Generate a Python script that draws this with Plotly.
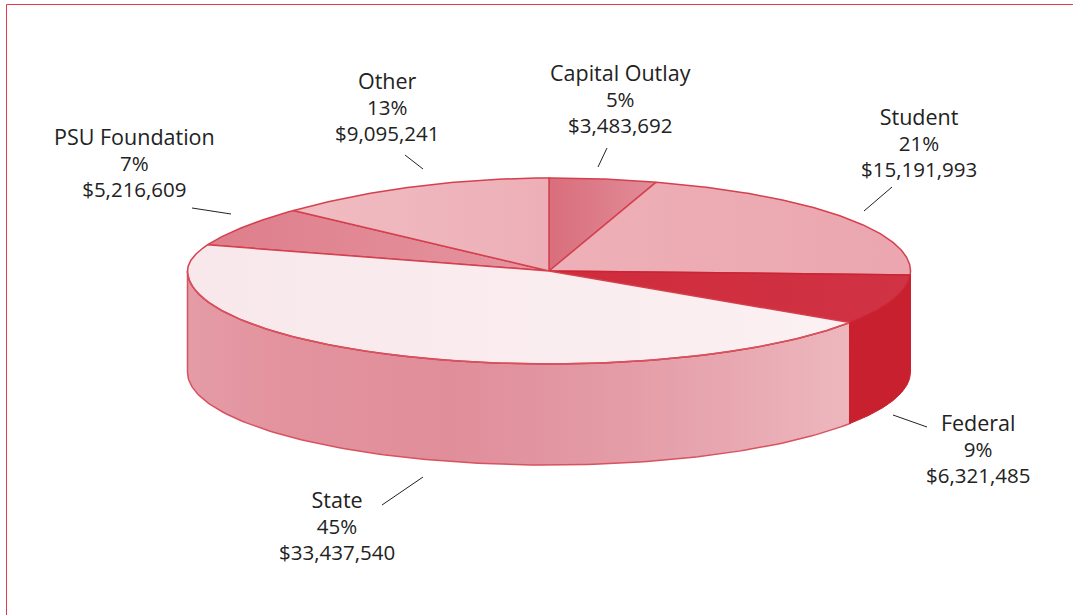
import numpy as np
import plotly.graph_objects as go

# ---- data (clockwise from 12 o'clock) ----
categories = ["Capital Outlay", "Student", "Federal", "State", "PSU Foundation", "Other"]
amounts = [3483692, 15191993, 6321485, 33437540, 5216609, 9095241]
percent_labels = ["5%", "21%", "9%", "45%", "7%", "13%"]
amount_labels = ["$3,483,692", "$15,191,993", "$6,321,485", "$33,437,540", "$5,216,609", "$9,095,241"]

# ---- styling ----
top_gradients = {
    "Capital Outlay": ["#d96e7c", "#e28c98"],
    "Student": ["#eeb0b8", "#eba6af"],
    "Federal": ["#cf2c3c", "#d03344"],
    "State": ["#f8e8eb", "#fbf0f2"],
    "PSU Foundation": ["#de7e8b", "#e595a0"],
    "Other": ["#f0bcc2", "#edafb7"],
}
state_wall_stops = [(0, "#e49ca6"), (0.12, "#e3949f"), (0.4, "#e08e9a"), (0.62, "#e39aa5"),
                    (0.82, "#e8a8b1"), (1, "#edb7be")]
federal_wall = "#c9202f"
rim = "#d8525f"
CX, CY, RX, RY, DEPTH = 549, 271, 361.5, 93, 101
label_pos = {"Capital Outlay": (620.5, 98), "Student": (918.5, 142), "Federal": (978, 448),
             "State": (336.5, 525), "PSU Foundation": (134, 162), "Other": (386.5, 106)}
leaders = [((607, 148), (598, 167)), ((892, 187), (864, 211)), ((893, 415), (927, 427)),
           ((423, 477), (382, 505)), ((192, 208), (231, 214)), ((405, 155), (423, 169))]


def ex(t):
    return CX + RX * np.sin(np.radians(t))


def ey(t):
    t = np.asarray(t, dtype=float)
    r = np.radians(t)
    # the printed disc sags slightly in its upper-left quadrant
    sag = np.where(t % 360 >= 270, 15 * np.sin(r) ** 2 * np.cos(r), 0)
    return CY - RY * np.cos(r) + sag


edges = np.concatenate([[0], np.cumsum(amounts) / np.sum(amounts) * 360])
spans = {c: (edges[i], edges[i + 1]) for i, c in enumerate(categories)}

fig = go.Figure()


def wall(t0, t1, **kw):
    t = np.linspace(t0, t1, 120)
    x = np.concatenate([ex(t), ex(t[::-1])])
    y = np.concatenate([ey(t), ey(t[::-1]) + DEPTH])
    x = np.append(x, x[0]); y = np.append(y, y[0])
    fig.add_trace(go.Scatter(x=x, y=y, mode="lines", fill="toself", hoverinfo="skip", **kw))


# side walls: only the part of the rim that faces the viewer
t_f0, t_f1 = spans["Federal"]
wall(t_f1, 270, fillgradient=dict(type="horizontal", colorscale=[[p, c] for p, c in state_wall_stops]),
     line=dict(color=rim, width=1.5), name="State side")
wall(90, t_f1, fillcolor=federal_wall, line=dict(color=federal_wall, width=1), name="Federal side")

# top slices
draw_order = ["Capital Outlay", "Student", "PSU Foundation", "Other", "Federal", "State"]
for c in draw_order:
    t0, t1 = spans[c]
    t = np.linspace(t0, t1, max(8, int((t1 - t0) * 2)))
    x = np.concatenate([[CX], ex(t), [CX]])
    y = np.concatenate([[CY], ey(t), [CY]])
    g = top_gradients[c]
    fig.add_trace(go.Scatter(x=x, y=y, mode="lines", fill="toself", hoverinfo="skip", name=c,
                             fillgradient=dict(type="horizontal", colorscale=[[0, g[0]], [1, g[1]]]),
                             line=dict(color="#d5404f" if c != "Federal" else "#cb2535", width=1.5)))

# rim of the State slice over the wall, and the edge between wall colours
t = np.linspace(t_f1, 270, 100)
fig.add_trace(go.Scatter(x=ex(t), y=ey(t), mode="lines", line=dict(color=rim, width=1.5), hoverinfo="skip"))
fig.add_trace(go.Scatter(x=[ex(t_f1)] * 2, y=[float(ey(t_f1)), float(ey(t_f1)) + DEPTH], mode="lines",
                         line=dict(color=federal_wall, width=1), hoverinfo="skip"))

# leader lines
for (a, b) in leaders:
    fig.add_trace(go.Scatter(x=[a[0], b[0]], y=[a[1], b[1]], mode="lines",
                             line=dict(color="#222222", width=1), hoverinfo="skip"))

# labels: one centred block of three lines, 26 px apart (1.3 x the 20 px base size)
for c, p, a in zip(categories, percent_labels, amount_labels):
    lx, ly = label_pos[c]
    text = (f'<span style="font-size:21.5px">{c}</span><br>'
            f'<span style="font-size:20.5px">{p}</span><br>'
            f'<span style="font-size:20.5px">{a}</span>')
    fig.add_annotation(x=lx, y=ly, text=text, showarrow=False, xref="x", yref="y", align="center",
                       font=dict(family="Open Sans", size=20, color="#222222"))

fig.update_layout(
    width=1073, height=615, margin=dict(l=0, r=0, t=0, b=0), showlegend=False,
    paper_bgcolor="white", plot_bgcolor="white",
    xaxis=dict(range=[0, 1073], visible=False, fixedrange=True),
    yaxis=dict(range=[615, 0], visible=False, fixedrange=True),
    shapes=[dict(type="line", x0=6.5, x1=6.5, y0=4.5, y1=615, line=dict(color="#e5394b", width=1)),
            dict(type="line", x0=6.5, x1=1073, y0=4.5, y1=4.5, line=dict(color="#e5394b", width=1))],
)
fig.write_html("out.html", config={"displayModeBar": False},
               post_script="document.body.style.margin='0';document.body.style.overflow='hidden';")
